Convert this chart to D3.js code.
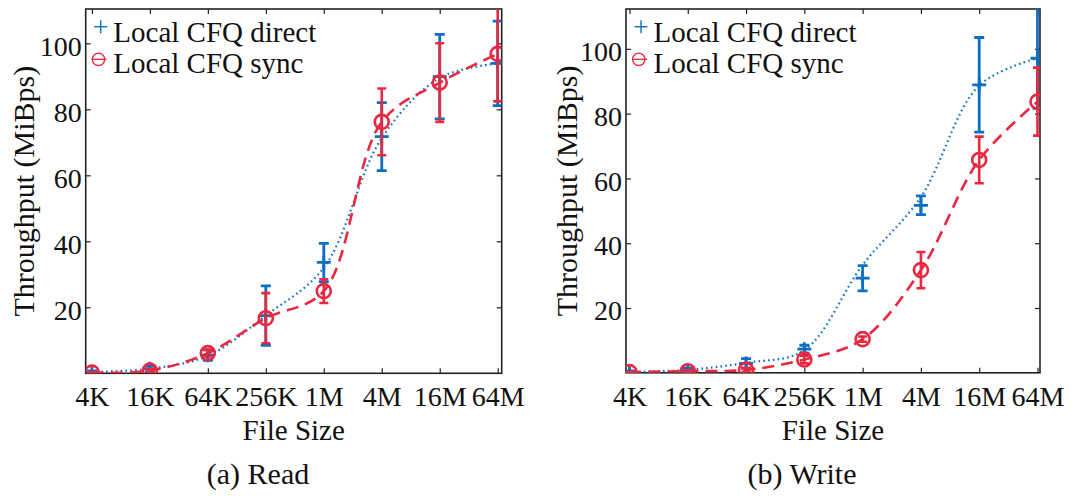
<!DOCTYPE html>
<html><head><meta charset="utf-8">
<script src="https://cdn.jsdelivr.net/npm/d3@7"></script>
<style>
body{margin:0;background:#fff;}
#chart, #chart text, #chart g { font-family: "Liberation Serif" !important; }
</style></head><body>
<svg id="chart" width="1075" height="496" font-family="Liberation Serif"></svg>
<script>
// ---- data ----
const fileSizes = ["4K","16K","64K","256K","1M","4M","16M","64M"];
const yTickValues = [20,40,60,80,100];
const seriesNames = ["Local CFQ direct","Local CFQ sync"];
const captions = ["(a) Read","(b) Write"];
const xTitle = "File Size";
const yTitle = "Throughput (MiBps)";

// Read panel
const readDirect     = [0.4, 1.4, 5.5, 17.5, 33.6, 71.7, 89.9, 93.9];
const readDirectErr  = [0.3, 0.9, 1.6, 9.0, 5.8, 10.3, 12.8, 12.8];
const readDirectLine = [0.4, 1.4, 5.3, 17.5, 32.0, 71.3, 89.5, 93.9];
const readSync       = [0.2, 0.8, 6.1, 16.7, 24.9, 76.2, 88.1, 96.8];
const readSyncErr    = [0.2, 0.5, 1.0, 7.6, 3.6, 10.1, 11.9, 14.4];

// Write panel
const writeDirect     = [0.3, 0.8, 2.9, 7.3, 29.2, 51.7, 88.9, 97.1];
const writeDirectErr  = [0.3, 0.6, 1.5, 1.2, 3.9, 2.9, 14.6, 15.5];
const writeDirectLine = [0.3, 0.9, 3.1, 7.0, 33.3, 54.3, 88.7, 97.1];
const writeSync       = [0.2, 0.5, 0.9, 4.1, 10.4, 31.7, 65.7, 83.7];
const writeSyncErr    = [0.1, 0.3, 0.6, 1.2, 0.8, 5.6, 7.2, 10.5];

// ---- styles / layout ----
const BLUE = "#0b6fc4", RED = "#ea2840";
const FONT = 28;
const FAMILY = "Liberation Serif";
const svg = d3.select("#chart");

function styleText(sel, size) {
  return sel.attr("font-family", FAMILY).attr("font-size", size)
    .style("font-family", "\"" + FAMILY + "\"").style("font-size", size + "px").attr("fill", "#111");
}

const panels = [
  {left:85.7, right:501.7, top:9, bottom:373.3, xDomain:[-0.107, 7.069], yMax:110.4,
   direct:readDirect, directErr:readDirectErr, directLine:readDirectLine,
   sync:readSync, syncErr:readSyncErr, caption:captions[0], captionX:258, yLabelX:34},
  {left:626, right:1040, top:9, bottom:372.8, xDomain:[-0.06, 7.043], yMax:112.3,
   direct:writeDirect, directErr:writeDirectErr, directLine:writeDirectLine,
   sync:writeSync, syncErr:writeSyncErr, caption:captions[1], captionX:802, yLabelX:576.5}
];

panels.forEach((p, pi) => {
  const x = d3.scaleLinear().domain(p.xDomain).range([p.left, p.right]);
  const y = d3.scaleLinear().domain([0, p.yMax]).range([p.bottom, p.top]);
  const idx = d3.range(fileSizes.length);

  const clipId = "clip" + pi;
  svg.append("clipPath").attr("id", clipId).append("rect")
    .attr("x", p.left).attr("y", p.top)
    .attr("width", p.right - p.left).attr("height", p.bottom - p.top);

  // axes
  const gB = svg.append("g").attr("transform", `translate(0,${p.bottom})`)
    .call(d3.axisBottom(x).tickValues(idx).tickFormat(i => fileSizes[i]).tickSize(-5));
  const gT = svg.append("g").attr("transform", `translate(0,${p.top})`)
    .call(d3.axisTop(x).tickValues(idx).tickFormat("").tickSize(-5));
  const gL = svg.append("g").attr("transform", `translate(${p.left},0)`)
    .call(d3.axisLeft(y).tickValues(yTickValues).tickSize(-5).tickPadding(4));
  const gR = svg.append("g").attr("transform", `translate(${p.right},0)`)
    .call(d3.axisRight(y).tickValues(yTickValues).tickFormat("").tickSize(-5));
  [gB, gT, gL, gR].forEach(g => {
    g.attr("font-family", FAMILY).attr("font-size", FONT);
    g.select(".domain").remove();
    g.selectAll("line").attr("stroke", "#222").attr("stroke-width", 1.2);
  });
  styleText(gB.selectAll("text").attr("y", 33).attr("dy", 0), FONT);
  styleText(gL.selectAll("text").attr("dy", "0.42em"), FONT);

  // frame
  svg.append("rect").attr("x", p.left).attr("y", p.top)
    .attr("width", p.right - p.left).attr("height", p.bottom - p.top)
    .attr("fill", "none").attr("stroke", "#222").attr("stroke-width", 1.6);

  const plot = svg.append("g").attr("clip-path", `url(#${clipId})`);
  const line = d3.line().x((d, i) => x(i)).y(d => y(d)).curve(d3.curveCatmullRom.alpha(0.5));

  // direct series (blue)
  plot.append("path").datum(p.directLine).attr("d", line)
    .attr("fill", "none").attr("stroke", BLUE).attr("stroke-width", 2.2)
    .attr("stroke-dasharray", "1.6,3.2");
  const bd = plot.append("g").attr("stroke", BLUE).attr("stroke-width", 2.8);
  idx.forEach(i => {
    const v = p.direct[i], e = p.directErr[i], cx = x(i);
    bd.append("line").attr("x1", cx).attr("x2", cx).attr("y1", y(v - e)).attr("y2", y(v + e));
    bd.append("line").attr("x1", cx - 5).attr("x2", cx + 5).attr("y1", y(v - e)).attr("y2", y(v - e));
    bd.append("line").attr("x1", cx - 5).attr("x2", cx + 5).attr("y1", y(v + e)).attr("y2", y(v + e));
    bd.append("line").attr("x1", cx - 7).attr("x2", cx + 7).attr("y1", y(v)).attr("y2", y(v));
    bd.append("line").attr("x1", cx).attr("x2", cx).attr("y1", y(v) - 7).attr("y2", y(v) + 7);
  });

  // sync series (red)
  plot.append("path").datum(p.sync).attr("d", line)
    .attr("fill", "none").attr("stroke", RED).attr("stroke-width", 2.6)
    .attr("stroke-dasharray", "12,7");
  const rd = plot.append("g").attr("stroke", RED).attr("stroke-width", 2.6).attr("fill", "none");
  idx.forEach(i => {
    const v = p.sync[i], e = p.syncErr[i], cx = x(i);
    rd.append("line").attr("x1", cx).attr("x2", cx).attr("y1", y(v - e)).attr("y2", y(v + e));
    rd.append("line").attr("x1", cx - 4.5).attr("x2", cx + 4.5).attr("y1", y(v - e)).attr("y2", y(v - e));
    rd.append("line").attr("x1", cx - 4.5).attr("x2", cx + 4.5).attr("y1", y(v + e)).attr("y2", y(v + e));
    rd.append("circle").attr("cx", cx).attr("cy", y(v)).attr("r", 7);
  });

  // legend
  const lx = p.left;
  const lg = svg.append("g");
  lg.append("line").attr("x1", lx + 8.5).attr("x2", lx + 21.5).attr("y1", 26.7).attr("y2", 26.7)
    .attr("stroke", BLUE).attr("stroke-width", 1.4);
  lg.append("line").attr("x1", lx + 15).attr("x2", lx + 15).attr("y1", 20.2).attr("y2", 33.2)
    .attr("stroke", BLUE).attr("stroke-width", 1.4);
  lg.append("circle").attr("cx", lx + 12.8).attr("cy", 59.3).attr("r", 6.2)
    .attr("fill", "none").attr("stroke", RED).attr("stroke-width", 1.3);
  lg.append("line").attr("x1", lx + 6).attr("x2", lx + 21).attr("y1", 59.3).attr("y2", 59.3)
    .attr("stroke", RED).attr("stroke-width", 1.3);
  styleText(lg.append("text").attr("x", lx + 27.6).attr("y", 41.7).text(seriesNames[0]), FONT + 1);
  styleText(lg.append("text").attr("x", lx + 27.6).attr("y", 72.7).text(seriesNames[1]), FONT + 1);

  // titles
  styleText(svg.append("text").attr("x", (p.left + p.right) / 2).attr("y", 440)
    .attr("text-anchor", "middle").text(xTitle), FONT + 1);
  styleText(svg.append("text").attr("transform", `translate(${p.yLabelX},${(p.top + p.bottom) / 2}) rotate(-90)`)
    .attr("text-anchor", "middle").text(yTitle), FONT + 2);
  styleText(svg.append("text").attr("x", p.captionX).attr("y", 484)
    .attr("text-anchor", "middle").text(p.caption), FONT + 2);
});
</script>
</body></html>
